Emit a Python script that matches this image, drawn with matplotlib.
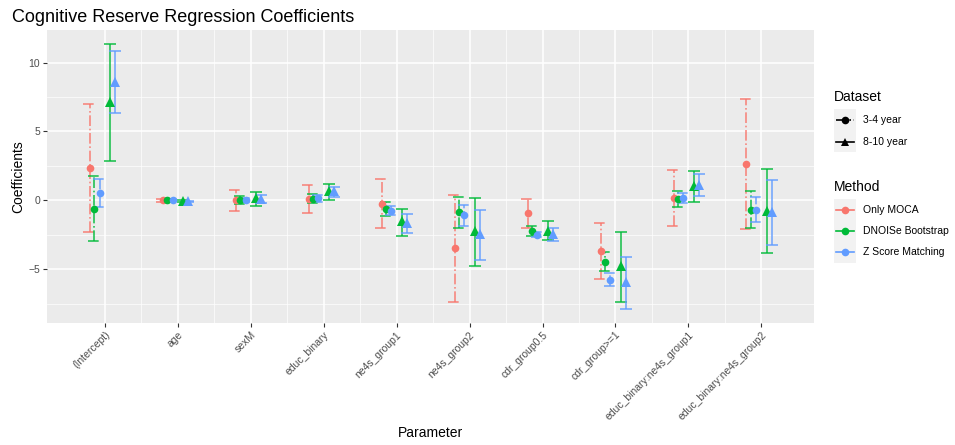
import matplotlib
matplotlib.use("Agg")
import matplotlib.pyplot as plt
import numpy as np
from matplotlib.lines import Line2D
from matplotlib.patches import Rectangle

plt.rcParams["font.family"] = ["Liberation Sans", "DejaVu Sans"]

# Parameters on the x axis
params = ["(Intercept)", "age", "sexM", "educ_binary", "ne4s_group1", "ne4s_group2",
          "cdr_group0.5", "cdr_group>=1", "educ_binary:ne4s_group1", "educ_binary:ne4s_group2"]

# Only MOCA, 3-4 year
moca_34 = [2.35, 0.0, 0.0, 0.10, -0.26, -3.48, -0.92, -3.65, 0.15, 2.64]
moca_34_lo = [-2.29, -0.12, -0.75, -0.89, -2.03, -7.36, -2.0, -5.68, -1.83, -2.07]
moca_34_hi = [7.0, 0.12, 0.78, 1.09, 1.52, 0.41, 0.12, -1.62, 2.2, 7.35]

# DNOISe Bootstrap, 3-4 year
dnoise_34 = [-0.6, 0.03, 0.03, 0.12, -0.6, -0.84, -2.2, -4.49, 0.1, -0.67]
dnoise_34_lo = [-2.97, -0.05, -0.24, -0.2, -1.11, -1.98, -2.56, -5.1, -0.51, -2.03]
dnoise_34_hi = [1.74, 0.1, 0.3, 0.46, -0.12, 0.22, -1.88, -3.75, 0.7, 0.7]

# Z Score Matching, 3-4 year
zscore_34 = [0.54, 0.02, 0.05, 0.14, -0.75, -1.09, -2.49, -5.77, 0.2, -0.67]
zscore_34_lo = [-0.5, -0.03, -0.15, -0.1, -1.06, -1.83, -2.7, -6.25, -0.17, -1.54]
zscore_34_hi = [1.57, 0.07, 0.2, 0.4, -0.43, -0.36, -2.32, -5.29, 0.56, 0.22]

# DNOISe Bootstrap, 8-10 year
dnoise_810 = [7.17, -0.05, 0.17, 0.65, -1.5, -2.25, -2.2, -4.78, 1.04, -0.75]
dnoise_810_lo = [2.83, -0.12, -0.38, 0.0, -2.56, -4.78, -2.9, -7.41, -0.14, -3.84]
dnoise_810_hi = [11.36, 0.02, 0.58, 1.19, -0.6, 0.2, -1.52, -2.29, 2.15, 2.28]

# Z Score Matching, 8-10 year
zscore_810 = [8.62, -0.08, 0.12, 0.65, -1.64, -2.44, -2.46, -5.96, 1.14, -0.84]
zscore_810_lo = [6.36, -0.14, -0.2, 0.25, -2.37, -4.3, -2.99, -7.87, 0.29, -3.23]
zscore_810_hi = [10.85, -0.02, 0.4, 0.94, -1.01, -0.67, -2.0, -4.15, 1.91, 1.45]

red, green, blue = "#F8766D", "#00BA38", "#619CFF"

series = [
    # est, lo, hi, colour, marker, linestyle, dodge
    (moca_34, moca_34_lo, moca_34_hi, red, "o", "-.", -0.205),
    (dnoise_34, dnoise_34_lo, dnoise_34_hi, green, "o", "-.", -0.14),
    (zscore_34, zscore_34_lo, zscore_34_hi, blue, "o", "-.", -0.07),
    (dnoise_810, dnoise_810_lo, dnoise_810_hi, green, "^", "-", 0.075),
    (zscore_810, zscore_810_lo, zscore_810_hi, blue, "^", "-", 0.145),
]

W, H = 955, 445
fig = plt.figure(figsize=(W / 100, H / 100), dpi=100)
ax = fig.add_axes([47 / W, 1 - 322.7 / H, (814 - 47) / W, (322.7 - 30) / H])
ax.set_facecolor("#EBEBEB")
for s in ax.spines.values():
    s.set_visible(False)

x = np.arange(1, len(params) + 1)
cap = 0.085

# error bars first, then points (like ggplot layers)
for est, lo, hi, col, mk, ls, dx in series:
    xs = x + dx
    ax.vlines(xs, lo, hi, colors=col, linestyles=ls, lw=1.2, alpha=0.85, zorder=3)
    ax.hlines(lo, xs - cap, xs + cap, colors=col, linestyles=ls, lw=1.2, alpha=0.85, zorder=3)
    ax.hlines(hi, xs - cap, xs + cap, colors=col, linestyles=ls, lw=1.2, alpha=0.85, zorder=3)
for est, lo, hi, col, mk, ls, dx in series:
    ax.plot(x + dx, est, linestyle="none", marker=mk, color=col,
            markersize=5.5 if mk == "o" else 6.5, markeredgewidth=0, zorder=4)

ax.set_xlim(0.21, 10.72)
ax.set_ylim(-8.89, 12.37)
ax.set_yticks([-5, 0, 5, 10])
ax.set_yticks([-7.5, -2.5, 2.5, 7.5], minor=True)
ax.set_xticks(x)
ax.set_xticks(x[:-1] + 0.5, minor=True)
ax.set_xticklabels(params, rotation=45, ha="right", va="top", rotation_mode="anchor")
ax.grid(which="major", color="white", lw=1.1)
ax.grid(which="minor", color="white", lw=0.5)
ax.set_axisbelow(True)
ax.tick_params(which="major", length=3, width=0.8, color="#333333", labelsize=7.5,
               labelcolor="#4D4D4D", pad=2)
ax.tick_params(which="minor", length=0)

fig.text((47 + 814) / 2 / W, 1 - 433 / H, "Parameter", fontsize=10, ha="center", va="center")
fig.text(18 / W, 1 - 176.5 / H, "Coefficients", fontsize=10, rotation=90,
         ha="center", va="center")
fig.text(12 / W, 1 - 17 / H, "Cognitive Reserve Regression Coefficients",
         fontsize=13, va="center", ha="left")


# legends drawn by hand, ggplot style (grey key boxes)
def fx(px):
    return px / W


def fy(py):
    return 1 - py / H


def key_box(y0, y1):
    fig.patches.append(Rectangle((fx(834), fy(y1)), fx(22), (y1 - y0) / H,
                                 transform=fig.transFigure, facecolor="#F2F2F2",
                                 edgecolor="none", zorder=0))


def key_line(py, col, ls, mk):
    fig.add_artist(Line2D([fx(836), fx(854)], [fy(py), fy(py)], transform=fig.transFigure,
                          color=col, ls=ls, lw=1.2))
    fig.add_artist(Line2D([fx(845)], [fy(py)], transform=fig.transFigure, color=col,
                          marker=mk, markersize=5.5, markeredgewidth=0, ls="none"))


fig.text(fx(834), fy(97), "Dataset", fontsize=10, va="center", ha="left")
key_box(109, 152)
for py, lab, ls, mk in [(120, "3-4 year", "-.", "o"), (142, "8-10 year", "-", "^")]:
    key_line(py, "black", ls, mk)
    fig.text(fx(863), fy(py), lab, fontsize=7.5, va="center", ha="left")

fig.text(fx(834), fy(187), "Method", fontsize=10, va="center", ha="left")
key_box(199, 263)
for py, lab, col in [(210, "Only MOCA", red), (231, "DNOISe Bootstrap", green),
                     (252, "Z Score Matching", blue)]:
    key_line(py, col, "-", "o")
    fig.text(fx(863), fy(py), lab, fontsize=7.5, va="center", ha="left")

fig.savefig("out.png", dpi=100)
